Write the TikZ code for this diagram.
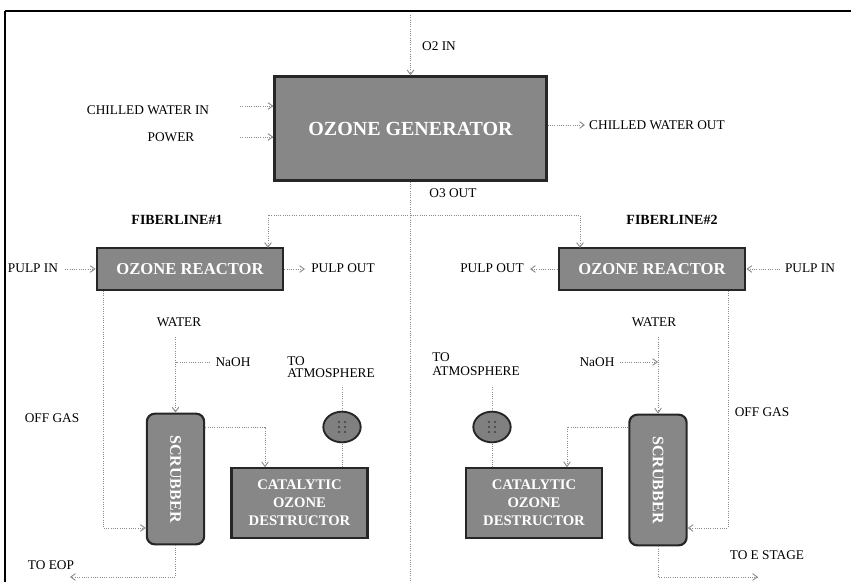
\documentclass[tikz,border=0pt]{standalone}
\usepackage{fontspec}
\setmainfont{Liberation Serif}
\usetikzlibrary{arrows.meta,shapes.geometric}
\tikzset{
  box/.style={draw=black!85, line width=1.6pt, fill=black!47, text=white, inner sep=1pt, align=center},
  genbox/.style={box, minimum width=204pt, minimum height=78pt, font=\fontsize{15}{17}\selectfont\bfseries},
  reactor/.style={box, minimum width=140pt, minimum height=31pt, font=\fontsize{12.5}{14}\selectfont\bfseries},
  scrubbox/.style={box, rounded corners=6pt, minimum width=43pt, minimum height=98pt, font=\fontsize{12}{13}\selectfont\bfseries},
  destbox/.style={box, minimum width=102pt, minimum height=52pt, font=\fontsize{11}{13.5}\selectfont\bfseries},
  fanbox/.style={ellipse, draw=black!85, line width=1.4pt, fill=black!50, minimum width=28pt, minimum height=23pt, inner sep=0pt},
  lab/.style={font=\fontsize{10}{10}\selectfont, inner sep=0pt, align=left},
  title/.style={font=\fontsize{10.5}{12}\selectfont\bfseries, inner sep=0pt},
  flow/.style={draw=black!45, densely dotted, line width=0.7pt},
  arr/.style={flow, -{Straight Barb[length=3.5pt,width=5pt]}},
}
\begin{document}
\begin{tikzpicture}[x=0.75pt,y=-0.75pt]
\useasboundingbox (0,0) rectangle (851,582);
% frame
\draw[line width=2.2pt] (5,11) -- (5,582);
\draw[line width=1.2pt] (5,11) -- (851,11);

% main nodes
\node[genbox] (gen) at (410.5,128.5) {OZONE GENERATOR};
\node[reactor] (r1) at (190,269) {OZONE REACTOR};
\node[reactor] (r2) at (652,269) {OZONE REACTOR};
\node[scrubbox] (s1) at (175.5,479) {\rotatebox{-90}{SCRUBBER}};
\node[scrubbox] (s2) at (658,480) {\rotatebox{-90}{SCRUBBER}};
\node[destbox] (d1) at (299.5,503) {CATALYTIC\\OZONE\\DESTRUCTOR};
\node[destbox] (d2) at (534,503) {CATALYTIC\\OZONE\\DESTRUCTOR};
\node[fanbox] (f1) at (342,427) {};
\node[fanbox] (f2) at (492,427) {};
\foreach \f in {f1,f2}{
  \foreach \dx in {-3,3}{\foreach \dy in {-5,0,5}{
    \fill[black!75] ([xshift=\dx*0.75pt,yshift=\dy*0.75pt]\f.center) circle (0.9pt);}}}

% labels
\node[lab] (o2l) at (439,46) {O2 IN};
\node[lab] (cwil) at (148,110) {CHILLED WATER IN};
\node[lab] (pwl) at (171,137) {POWER};
\node[lab] (cwol) at (657,125) {CHILLED WATER OUT};
\node[lab] (o3l) at (453,193) {O3 OUT};
\node[title] (fl1) at (177,220) {FIBERLINE\#1};
\node[title] (fl2) at (672,220) {FIBERLINE\#2};
\node[lab] (pi1l) at (33,268) {PULP IN};
\node[lab] (po1l) at (343,268) {PULP OUT};
\node[lab] (po2l) at (492,268) {PULP OUT};
\node[lab] (pi2l) at (810,268) {PULP IN};
\node[lab] (w1l) at (179,322) {WATER};
\node[lab] (w2l) at (654,322) {WATER};
\node[lab] (n1l) at (233,362) {NaOH};
\node[lab] (n2l) at (597,362) {NaOH};
\node[lab, anchor=west, font=\fontsize{10}{9.5}\selectfont] (at1) at (287,367) {TO\\ATMOSPHERE};
\node[lab, anchor=west, font=\fontsize{10}{11}\selectfont] (at2) at (432,364) {TO\\ATMOSPHERE};
\node[lab] (og1l) at (52,418) {OFF GAS};
\node[lab] (og2l) at (762,412) {OFF GAS};
\node[lab] (eopl) at (51,565) {TO EOP};
\node[lab] (esl) at (767,555) {TO E STAGE};

% free ends / junctions
\coordinate (o2) at (410.5,15);
\coordinate (cwi) at (240,106);
\coordinate (pw) at (240,137);
\coordinate (cwo) at (585,125);
\coordinate (j) at (410.5,215);
\coordinate (divb) at (410.5,580);
\coordinate (r1t) at (268,248);
\coordinate (r2t) at (580,248);
\coordinate (pi1) at (65,269);
\coordinate (po1) at (305,269);
\coordinate (po2) at (530,269);
\coordinate (pi2) at (780,269);
\coordinate (og1) at (103,528);
\coordinate (og2) at (728,528);
\coordinate (w1) at (175.5,337);
\coordinate (w2) at (658,337);
\coordinate (n1) at (210,362);
\coordinate (n2) at (620,362);
\coordinate (k1) at (265,427);
\coordinate (k2) at (567,427);
\coordinate (a1) at (342,387);
\coordinate (a2) at (492,387);
\coordinate (e1) at (175.5,577);
\coordinate (eop) at (70,577);
\coordinate (e2) at (658,577);
\coordinate (es) at (758,577);

% generator connectors
\draw[arr] (o2) -- (gen.north);
\draw[arr] (cwi) -- (gen.west |- cwi);
\draw[arr] (pw) -- (gen.west |- pw);
\draw[arr] (gen.east |- cwo) -- (cwo);
\draw[flow] (gen.south) -- (j);
\draw[arr] (j) -| (r1t);
\draw[arr] (j) -| (r2t);
\draw[flow] (j) -- (divb);

% reactors
\draw[arr] (pi1) -- (r1.west);
\draw[arr] (r1.east) -- (po1);
\draw[arr] (r2.west) -- (po2);
\draw[arr] (pi2) -- (r2.east);

% off gas
\draw[arr] (r1.south -| og1) -- (og1) -- (s1.west |- og1);
\draw[arr] (r2.south -| og2) -- (og2) -- (s2.east |- og2);

% water / NaOH
\draw[arr] (w1) -- (s1.north);
\draw[arr] (w2) -- (s2.north);
\draw[flow] (n1) -- (s1.north |- n1);
\draw[arr] (n2) -- (s2.north |- n2);

% scrubber to destructor
\draw[arr] (s1.east |- k1) -| (d1.north -| k1);
\draw[arr] (s2.west |- k2) -| (d2.north -| k2);

% destructor to atmosphere
\draw[flow] (d1.north -| f1) -- (f1.south);
\draw[flow] (f1.north) -- (a1);
\draw[flow] (d2.north -| f2) -- (f2.south);
\draw[flow] (f2.north) -- (a2);

% scrubber outlets
\draw[arr] (s1.south) -- (e1) -- (eop);
\draw[arr] (s2.south) -- (e2) -- (es);
\end{tikzpicture}
\end{document}
